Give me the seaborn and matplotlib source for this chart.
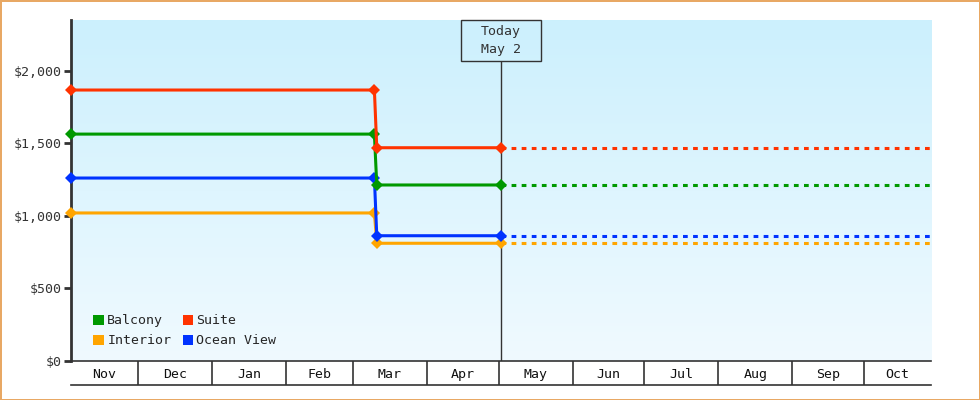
import matplotlib.pyplot as plt
import matplotlib.transforms as mtransforms
import matplotlib.dates as mdates
from matplotlib.colors import LinearSegmentedColormap
from matplotlib.patches import Patch, Rectangle
import numpy as np
import pandas as pd
import seaborn as sns

# Price history per cabin type (drop on Mar 10 -> Mar 11), projected flat after today
dates = ["2024-11-03", "2025-03-10", "2025-03-11", "2025-05-02"]
proj_end = "2025-10-29"
today = "2025-05-02"
today_label = "Today\nMay 2"

cabins = ["Interior", "Ocean View", "Balcony", "Suite"]
interior = [1019, 1019, 810, 810]
ocean_view = [1260, 1260, 862, 862]
balcony = [1563, 1563, 1212, 1212]
suite = [1867, 1867, 1469, 1469]

colors = {"Balcony": "#009900", "Suite": "#ff3300",
          "Interior": "#ffa500", "Ocean View": "#0033ff"}
legend_order = ["Balcony", "Interior", "Suite", "Ocean View"]
months = ["Nov", "Dec", "Jan", "Feb", "Mar", "Apr",
          "May", "Jun", "Jul", "Aug", "Sep", "Oct"]
yticks = [0, 500, 1000, 1500, 2000]

# Build long-form frames
values = dict(zip(cabins, [interior, ocean_view, balcony, suite]))
rows = []
proj_rows = []
for cab in cabins:
    for d, v in zip(dates, values[cab]):
        rows.append({"date": pd.Timestamp(d), "price": v, "cabin": cab})
    proj_rows.append({"date": pd.Timestamp(dates[-1]), "price": values[cab][-1], "cabin": cab})
    proj_rows.append({"date": pd.Timestamp(proj_end), "price": values[cab][-1], "cabin": cab})
df = pd.DataFrame(rows)
df_proj = pd.DataFrame(proj_rows)

sns.set_style("white")
plt.rcParams["font.family"] = ["DejaVu Sans Mono"]

fig = plt.figure(figsize=(9.8, 4.0), dpi=100)
fig.patch.set_edgecolor("#e8a864")
fig.patch.set_linewidth(2)

left, right = 71 / 980, 931 / 980
ax = fig.add_axes([left, 39.3 / 400, right - left, 340.7 / 400])
ax2 = fig.add_axes([left, 15 / 400, right - left, 24.3 / 400], sharex=ax)

# gradient background
cmap = LinearSegmentedColormap.from_list("bg", ["#f0faff", "#ccf0fd"])
ax.imshow(np.linspace(0, 1, 256)[:, None], cmap=cmap, aspect="auto",
          extent=[0, 1, 0, 1], transform=ax.transAxes, origin="lower", zorder=0)

# projected (dashed) part
sns.lineplot(data=df_proj, x="date", y="price", hue="cabin", palette=colors,
             hue_order=cabins, ax=ax, legend=False, linewidth=2.2, sort=True, zorder=2)
n_proj = len(ax.lines)
for ln in ax.lines:
    ln.set_dashes([1.55, 1.75])
    ln.set_dash_capstyle("butt")

# actual price history
sns.lineplot(data=df, x="date", y="price", hue="cabin", palette=colors,
             hue_order=cabins, ax=ax, legend=False, linewidth=2.2,
             marker="D", markersize=6, markeredgewidth=0, sort=True, zorder=6)
for ln in ax.lines[n_proj:]:
    ln.set_clip_on(False)

x0, x1 = mdates.date2num(pd.Timestamp(dates[0])), mdates.date2num(pd.Timestamp(proj_end))
ax.set_xlim(x0, x1)
ax.set_ylim(0, 2350)
ax.set_yticks(yticks)
ax.set_yticklabels([f"${v:,}" for v in yticks])
ax.tick_params(axis="y", length=5, width=2, color="#333333", labelsize=9.5,
               labelcolor="#333333", pad=2, left=True)
ax.tick_params(axis="x", bottom=False, labelbottom=False)
ax.set_xlabel("")
ax.set_ylabel("")
for s in ["top", "right"]:
    ax.spines[s].set_visible(False)
ax.spines["left"].set_linewidth(2)
ax.spines["left"].set_color("#333333")
ax.spines["bottom"].set_linewidth(1.2)
ax.spines["bottom"].set_color("#333333")

# today marker
tnum = mdates.date2num(pd.Timestamp(today))
tx = (tnum - x0) / (x1 - x0)
box_w = 80 / 860
box_h = 40.7 / 340.7
ax.vlines(tnum, 0, 1 - box_h, transform=mtransforms.blended_transform_factory(ax.transData, ax.transAxes),
          color="#333333", linewidth=1, zorder=4)
ax.add_patch(Rectangle((tx - box_w / 2, 1 - box_h), box_w, box_h, transform=ax.transAxes,
                       facecolor="none", edgecolor="#333333", linewidth=1, zorder=4, clip_on=False))
ax.text(tx, 1 - box_h / 2, today_label, transform=ax.transAxes, ha="center", va="center",
        fontsize=9.5, linespacing=1.5, color="#333333", zorder=5)

# legend
handles = [Patch(facecolor=colors[c], edgecolor="none") for c in legend_order]
ax.legend(handles, legend_order, ncol=2, loc="lower left", bbox_to_anchor=(0.02, 0.024),
          frameon=False, fontsize=9.5, handlelength=0.8, handleheight=0.8,
          handletextpad=0.25, columnspacing=0.85, labelspacing=0.52, borderaxespad=0)

# month strip
ax2.set_ylim(0, 1)
ax2.set_yticks([])
ax2.tick_params(axis="x", bottom=False, labelbottom=False)
for s in ["top", "left", "right"]:
    ax2.spines[s].set_visible(False)
ax2.spines["bottom"].set_linewidth(1.2)
ax2.spines["bottom"].set_color("#333333")
ax2.patch.set_alpha(0)
start = pd.Timestamp(dates[0])
month_starts = pd.date_range(start.to_period("M").to_timestamp(), periods=len(months) + 1, freq="MS")
for i, name in enumerate(months):
    a = max(mdates.date2num(month_starts[i]), x0)
    b = min(mdates.date2num(month_starts[i + 1]), x1)
    if i > 0:
        ax2.axvline(a, color="#333333", linewidth=1.2)
    ax2.text((a + b) / 2, 0.45, name, ha="center", va="center", fontsize=9.5, color="#111111")

fig.savefig("out.png", dpi=100, facecolor="white", edgecolor=fig.get_edgecolor())
